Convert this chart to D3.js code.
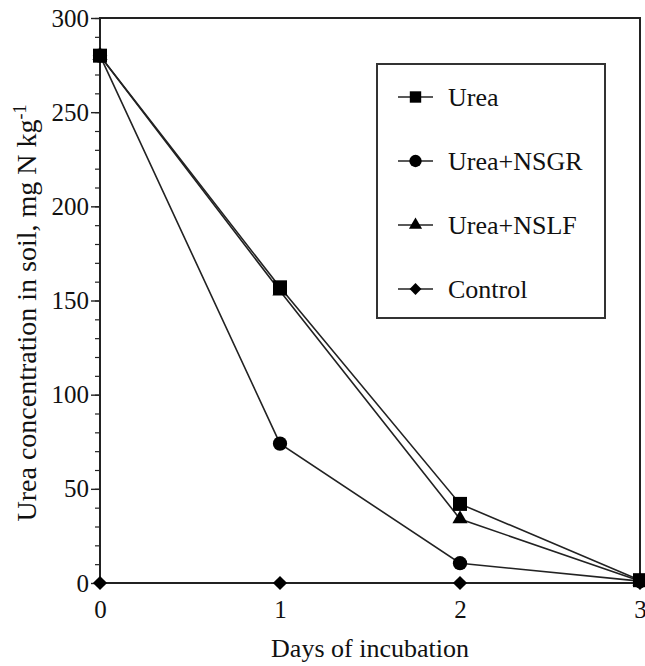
<!DOCTYPE html>
<html>
<head>
<meta charset="utf-8">
<script src="https://cdn.jsdelivr.net/npm/d3@7"></script>
<style>
  body { margin: 0; background: #fff; }
  svg text { font-family: "Liberation Serif", "DejaVu Serif", serif !important; fill: #111; }
</style>
</head>
<body>
<div id="chart"></div>
<script>
// data
const days = [0, 1, 2, 3];
const urea = [280, 157, 42, 1.5];
const ureaNSGR = [280, 74, 10.5, 1];
const ureaNSLF = [280, 155, 34, 1];
const control = [0, 0, 0, 0];
const seriesNames = ["Urea", "Urea+NSGR", "Urea+NSLF", "Control"];
const yTicks = [0, 50, 100, 150, 200, 250, 300];

const W = 645, H = 666;
const margin = {top: 18, right: 5, bottom: 83, left: 100};
const width = W - margin.left - margin.right,
      height = H - margin.top - margin.bottom;

const svg = d3.select("#chart").append("svg")
  .attr("width", W).attr("height", H)
  .attr("font-family", "Liberation Serif");
const g = svg.append("g")
  .attr("transform", "translate(" + margin.left + "," + margin.top + ")");

const x = d3.scaleLinear().domain([0, 3]).range([0, width]);
const y = d3.scaleLinear().domain([0, 300]).range([height, 0]);

// minor ticks every 10
g.append("g")
  .call(d3.axisLeft(y).tickValues(d3.range(0, 301, 10)).tickSize(5).tickFormat(""))
  .call(a => a.select(".domain").remove())
  .selectAll("line").attr("stroke", "#222").attr("stroke-width", 1.2);

// major y ticks
const yAx = g.append("g")
  .call(d3.axisLeft(y).tickValues(yTicks).tickSize(9).tickPadding(2))
  .attr("font-family", "Liberation Serif");
yAx.select(".domain").remove();
yAx.selectAll("line").attr("stroke", "#222").attr("stroke-width", 1.4);
yAx.selectAll("text").attr("font-size", 25).attr("fill", "#111");

// x axis labels
const xAx = g.append("g")
  .attr("transform", "translate(0," + height + ")")
  .call(d3.axisBottom(x).tickValues(days).tickSize(0).tickFormat(d3.format("d")).tickPadding(17))
  .attr("font-family", "Liberation Serif");
xAx.select(".domain").remove();
xAx.selectAll("text").attr("font-size", 25).attr("fill", "#111");

// frame
g.append("rect")
  .attr("x", 0).attr("y", 0).attr("width", width).attr("height", height)
  .attr("fill", "none").attr("stroke", "#222").attr("stroke-width", 2);

// axis titles
svg.append("text")
  .attr("x", margin.left + width / 2).attr("y", 657)
  .attr("text-anchor", "middle").attr("font-size", 26)
  .text("Days of incubation");

const yt = svg.append("text")
  .attr("transform", "translate(36,313) rotate(-90)")
  .attr("text-anchor", "middle").attr("font-size", 28)
  .text("Urea concentration in soil, mg N kg");
yt.append("tspan").attr("baseline-shift", "super").attr("font-size", 18).text("-1");

// series
const symSquare = d3.symbol().type(d3.symbolSquare).size(196);
const symCircle = d3.symbol().type(d3.symbolCircle).size(160);
const symTriangle = d3.symbol().type(d3.symbolTriangle).size(100);
const symDiamond = d3.symbol().type(d3.symbolSquare).size(100);

const series = [
  {name: seriesNames[3], values: control, sym: symDiamond, rot: 45},
  {name: seriesNames[1], values: ureaNSGR, sym: symCircle, rot: 0},
  {name: seriesNames[2], values: ureaNSLF, sym: symTriangle, rot: 0},
  {name: seriesNames[0], values: urea, sym: symSquare, rot: 0}
];

const line = d3.line().x((d, i) => x(days[i])).y(d => y(d));

series.forEach(s => {
  g.append("path").datum(s.values)
    .attr("d", line).attr("fill", "none")
    .attr("stroke", "#222").attr("stroke-width", 1.6);
});
series.forEach(s => {
  g.selectAll(null).data(s.values).enter().append("path")
    .attr("d", s.sym())
    .attr("transform", (d, i) => "translate(" + x(days[i]) + "," + y(d) + ") rotate(" + s.rot + ")")
    .attr("fill", "#000");
});

// legend
const legend = svg.append("g").attr("transform", "translate(377,64)");
legend.append("rect").attr("width", 228).attr("height", 254)
  .attr("fill", "#fff").attr("stroke", "#333").attr("stroke-width", 2);

const legendSyms = [
  {sym: d3.symbol().type(d3.symbolSquare).size(130), rot: 0},
  {sym: d3.symbol().type(d3.symbolCircle).size(120), rot: 0},
  {sym: d3.symbol().type(d3.symbolTriangle).size(75), rot: 0},
  {sym: d3.symbol().type(d3.symbolSquare).size(70), rot: 45}
];
seriesNames.forEach((name, i) => {
  const row = legend.append("g").attr("transform", "translate(0," + (33 + i * 64) + ")");
  row.append("line").attr("x1", 21).attr("x2", 56).attr("y1", 0).attr("y2", 0)
    .attr("stroke", "#222").attr("stroke-width", 1.6);
  row.append("path").attr("d", legendSyms[i].sym())
    .attr("transform", "translate(38.5,0) rotate(" + legendSyms[i].rot + ")")
    .attr("fill", "#000");
  row.append("text").attr("x", 71).attr("y", 9)
    .attr("font-size", 26).text(name);
});
</script>
</body>
</html>
